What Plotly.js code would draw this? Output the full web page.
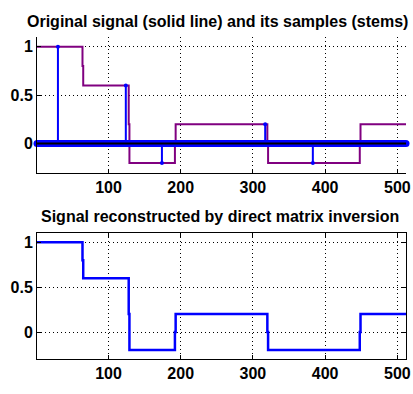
<!DOCTYPE html>
<html>
<head>
<meta charset="utf-8">
<script src="https://cdn.plot.ly/plotly-3.0.1.min.js"></script>
<style>
html,body{margin:0;padding:0;background:#fff;}
#chart{width:413px;height:394px;}
</style>
</head>
<body>
<div id="chart"></div>
<script>
// Original signal (piecewise constant, drawn as stairs)
var signalX = [1, 64, 65, 128, 129, 192, 193, 320, 321, 448, 449, 512];
var signalY = [1, 0.8, 0.6, 0.2, -0.2, 0, 0.2, 0, -0.2, 0, 0.2, 0.2];
// Non-zero samples (stems); all other samples are zero
var stemX = [30, 124, 174, 317, 383];
var stemY = [1, 0.6, -0.2, 0.2, -0.2];
var sampleRange = [1, 512];
// Reconstructed signal
var reconX = [1, 64, 65, 128, 129, 192, 193, 320, 321, 448, 449, 512];
var reconY = [1, 0.8, 0.6, 0.2, -0.2, 0, 0.2, 0, -0.2, 0, 0.2, 0.2];
var xTicks = [100, 200, 300, 400, 500];
var yTicks = [0, 0.5, 1];
var yTickText = ['0', '0.5', '1'];
var title1 = 'Original signal (solid line) and its samples (stems)';
var title2 = 'Signal reconstructed by direct matrix inversion';

var FONT = 'Liberation Sans, Arial, Helvetica, sans-serif';
var BLUE = '#0000ff';
var PURPLE = '#800080';

var sx = [], sy = [];
for (var i = 0; i < stemX.length; i++) {
  sx.push(stemX[i], stemX[i], null);
  sy.push(0, stemY[i], null);
}

var traces = [
  {x: signalX, y: signalY, type: 'scatter', mode: 'lines', line: {shape: 'hv', color: PURPLE, width: 2}, xaxis: 'x', yaxis: 'y', hoverinfo: 'skip'},
  {x: sampleRange, y: [0, 0], type: 'scatter', mode: 'lines+markers', line: {color: BLUE, width: 7}, marker: {color: BLUE, size: 7}, cliponaxis: false, xaxis: 'x', yaxis: 'y', hoverinfo: 'skip'},
  {x: sx, y: sy, type: 'scatter', mode: 'lines', line: {color: BLUE, width: 2}, xaxis: 'x', yaxis: 'y', hoverinfo: 'skip'},
  {x: stemX, y: stemY, type: 'scatter', mode: 'markers', marker: {color: BLUE, size: 4}, xaxis: 'x', yaxis: 'y', hoverinfo: 'skip'},
  {x: sampleRange, y: [0, 0], type: 'scatter', mode: 'lines', line: {color: '#000', width: 2}, xaxis: 'x', yaxis: 'y', hoverinfo: 'skip'},
  {x: reconX, y: reconY, type: 'scatter', mode: 'lines', line: {shape: 'hv', color: BLUE, width: 2.5}, xaxis: 'x2', yaxis: 'y2', hoverinfo: 'skip'}
];

function xa(anchor, mirror) {
  return {
    anchor: anchor, range: [1, 512], tickvals: xTicks, ticktext: xTicks.map(String),
    ticks: 'inside', ticklen: 4, tickcolor: '#000', tickwidth: 1,
    showline: true, linecolor: '#000', linewidth: 1, mirror: mirror,
    showgrid: true, gridcolor: '#000', gridwidth: 1, griddash: '1px,3px',
    zeroline: false, tickfont: {family: FONT, size: 16, weight: 'bold', color: '#000'},
    fixedrange: true
  };
}
function ya(anchor, domain, mirror) {
  return {
    anchor: anchor, domain: domain, range: [-0.3, 1.1], tickvals: yTicks, ticktext: yTickText,
    ticks: 'inside', ticklen: 4, tickcolor: '#000', tickwidth: 1,
    showline: true, linecolor: '#000', linewidth: 1, mirror: mirror,
    showgrid: true, gridcolor: '#000', gridwidth: 1, griddash: '1px,3px',
    zeroline: false, tickfont: {family: FONT, size: 16, weight: 'bold', color: '#000'},
    fixedrange: true
  };
}

var layout = {
  width: 413, height: 394,
  margin: {l: 37, r: 7, t: 37, b: 35},
  paper_bgcolor: '#fff', plot_bgcolor: '#fff',
  showlegend: false,
  xaxis: xa('y', false),
  yaxis: ya('x', [0.5786, 1], false),
  xaxis2: xa('y2', 'ticks'),
  yaxis2: ya('x2', [0, 0.3904], 'ticks'),
  annotations: [
    {text: title1, xref: 'paper', yref: 'paper', x: 0.488, y: 1.047, xanchor: 'center', yanchor: 'middle', showarrow: false,
     font: {family: FONT, size: 16, weight: 'bold', color: '#000'}},
    {text: title2, xref: 'paper', yref: 'paper', x: 0.497, y: 0.441, xanchor: 'center', yanchor: 'middle', showarrow: false,
     font: {family: FONT, size: 16, weight: 'bold', color: '#000'}}
  ]
};

Plotly.newPlot('chart', traces, layout, {displayModeBar: false, staticPlot: true});
</script>
</body>
</html>
